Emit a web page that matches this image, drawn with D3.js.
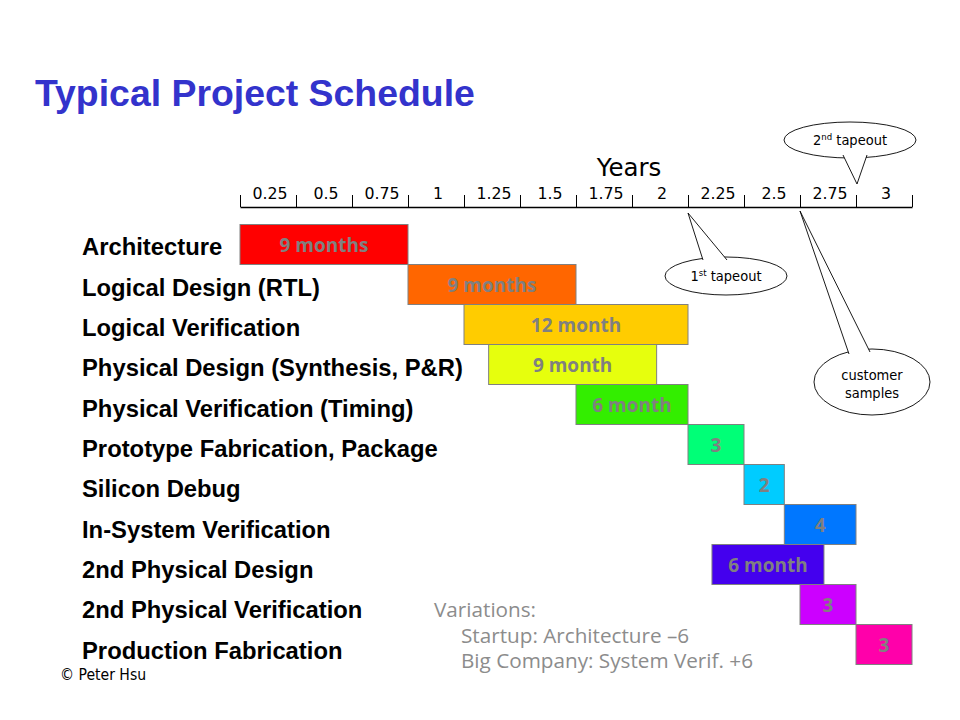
<!DOCTYPE html>
<html>
<head>
<meta charset="utf-8">
<script src="https://cdn.jsdelivr.net/npm/d3@7/dist/d3.min.js"></script>
<style>
  html, body { margin: 0; padding: 0; background: #fff; }
  svg { display: block; }
</style>
</head>
<body>
<svg id="chart" width="960" height="720"></svg>
<script>
// ---- Data ----
const categories = [
  "Architecture",
  "Logical Design (RTL)",
  "Logical Verification",
  "Physical Design (Synthesis, P&R)",
  "Physical Verification (Timing)",
  "Prototype Fabrication, Package",
  "Silicon Debug",
  "In-System Verification",
  "2nd Physical Design",
  "2nd Physical Verification",
  "Production Fabrication"
];
// start / end in years
const starts = [0, 0.75, 1.0, 1.11, 1.5, 2.0, 2.25, 2.43, 2.107, 2.5, 2.75];
const ends   = [0.75, 1.5, 2.0, 1.86, 2.0, 2.25, 2.43, 2.75, 2.607, 2.75, 3.0];
const barLabels = ["9 months", "9 months", "12 month", "9 month", "6 month", "3", "2", "4", "6 month", "3", "3"];
const tickValues = [0, 0.25, 0.5, 0.75, 1, 1.25, 1.5, 1.75, 2, 2.25, 2.5, 2.75, 3];
const tickLabels = ["0.25", "0.5", "0.75", "1", "1.25", "1.5", "1.75", "2", "2.25", "2.5", "2.75", "3"];
const milestoneYears = [2.0, 2.75, 2.5];
const milestoneNames = [["1", "st", " tapeout"], ["2", "nd", " tapeout"], ["customer", "samples"]];
const variations = ["Variations:", "Startup: Architecture \u20136", "Big Company: System Verif. +6"];

// ---- Styles ----
const palette = ["#ff0000", "#ff6600", "#ffcc00", "#e6ff0d", "#33ee00", "#00ff77",
                 "#00ccff", "#0077ff", "#4400ee", "#cc00ff", "#ff00aa"];
const ARIAL = "'Liberation Sans', Arial, sans-serif";
const TAHOMA = "'DejaVu Sans', Verdana, sans-serif";
const TAHOMA_C = "'DejaVu Sans Condensed', 'DejaVu Sans', sans-serif";
const SEGOE = "'Open Sans', 'Noto Sans', sans-serif";

const svg = d3.select("#chart");

const x = d3.scaleLinear().domain([0, 3]).range([240, 912]);
const y = d3.scaleBand().domain(categories).range([224, 664]).padding(0);
// label rows are spaced slightly wider than the bar rows in the original
const yLabel = d3.scaleBand().domain(categories).range([225, 669]).padding(0);

// Title
svg.append("text")
  .attr("x", 35).attr("y", 106)
  .style("font-family", ARIAL)
  .style("font-weight", "bold")
  .style("font-size", "37.4px")
  .attr("fill", "#3333cc")
  .text("Typical Project Schedule");

// Axis
const axisG = svg.append("g").attr("transform", "translate(0,207)");
axisG.call(d3.axisTop(x).tickValues(tickValues).tickSizeInner(12).tickSizeOuter(0).tickFormat(""));
axisG.select(".domain").attr("stroke", "#000").attr("stroke-width", 1.3);
axisG.selectAll(".tick line").attr("stroke", "#000").attr("stroke-width", 1);

svg.append("g").selectAll("text")
  .data(tickLabels)
  .join("text")
  .attr("x", (d, i) => x((tickValues[i] + tickValues[i + 1]) / 2) + 2)
  .attr("y", 199)
  .attr("text-anchor", "middle")
  .style("font-family", TAHOMA)
  .style("font-size", "15.8px")
  .attr("fill", "#000")
  .text(d => d);

svg.append("text")
  .attr("x", 629).attr("y", 176)
  .attr("text-anchor", "middle")
  .style("font-family", TAHOMA)
  .style("font-size", "24.5px")
  .attr("fill", "#000")
  .text("Years");

// Category labels
svg.append("g").selectAll("text")
  .data(categories)
  .join("text")
  .attr("x", 82)
  .attr("y", d => yLabel(d) + yLabel.bandwidth() / 2 + 10)
  .style("font-family", ARIAL)
  .style("font-weight", "bold")
  .style("font-size", "23.8px")
  .attr("fill", "#000")
  .text(d => d);

// Bars
svg.append("g").selectAll("rect")
  .data(categories)
  .join("rect")
  .attr("x", (d, i) => x(starts[i]))
  .attr("y", d => y(d) + 0.5)
  .attr("width", (d, i) => x(ends[i]) - x(starts[i]))
  .attr("height", y.bandwidth())
  .attr("fill", (d, i) => palette[i])
  .attr("stroke", "#808080")
  .attr("stroke-width", 1);

svg.append("g").selectAll("text")
  .data(categories)
  .join("text")
  .attr("x", (d, i) => (x(starts[i]) + x(ends[i])) / 2)
  .attr("y", d => y(d) + y.bandwidth() / 2 + 8)
  .attr("text-anchor", "middle")
  .style("font-family", SEGOE)
  .style("font-weight", "bold")
  .style("font-size", "19px")
  .attr("fill", "#808080")
  .text((d, i) => barLabels[i]);

// Callouts
const callouts = [
  { cx: 726, cy: 276, rx: 61, ry: 19, tipY: 213, b1: [703, 260], b2: [727, 260] },
  { cx: 850, cy: 140, rx: 66, ry: 18, tipY: 184, b1: [843, 155], b2: [867, 155] },
  { cx: 872, cy: 382, rx: 58, ry: 33, tipY: 211, b1: [849, 354], b2: [870, 352] }
];
const cg = svg.append("g");
callouts.forEach((c, i) => {
  const tipX = x(milestoneYears[i]) + (i === 1 ? 1 : 0);
  cg.append("ellipse")
    .attr("cx", c.cx).attr("cy", c.cy).attr("rx", c.rx).attr("ry", c.ry)
    .attr("fill", "#fff").attr("stroke", "#000").attr("stroke-width", 0.9);
  cg.append("path")
    .attr("d", `M${c.b1[0]},${c.b1[1]}L${tipX},${c.tipY}L${c.b2[0]},${c.b2[1]}`)
    .attr("fill", "#fff").attr("stroke", "#000").attr("stroke-width", 0.9);
  const names = milestoneNames[i];
  if (names.length === 3) {
    const t = cg.append("text")
      .attr("x", c.cx).attr("y", c.cy + 5)
      .attr("text-anchor", "middle")
      .style("font-family", TAHOMA_C)
      .style("font-size", "14.5px")
      .attr("fill", "#000");
    t.append("tspan").text(names[0]);
    t.append("tspan").style("font-size", "9.5px").attr("dy", -5).text(names[1]);
    t.append("tspan").attr("dy", 5).text(names[2]);
  } else {
    names.forEach((n, j) => {
      cg.append("text")
        .attr("x", c.cx).attr("y", c.cy - 2 + j * 18)
        .attr("text-anchor", "middle")
        .style("font-family", TAHOMA_C)
        .style("font-size", "14.5px")
        .attr("fill", "#000")
        .text(n);
    });
  }
});

// Variations note
svg.append("g").selectAll("text")
  .data(variations)
  .join("text")
  .attr("x", (d, i) => i === 0 ? 434 : 461)
  .attr("y", (d, i) => 617 + i * 25.5)
  .style("font-family", SEGOE)
  .style("font-size", "20.7px")
  .attr("fill", "#8c8c8c")
  .text(d => d);

// Copyright
svg.append("text")
  .attr("x", 60).attr("y", 680)
  .style("font-family", TAHOMA_C)
  .style("font-size", "15.6px")
  .attr("fill", "#000")
  .text("\u00a9 Peter Hsu");
</script>
</body>
</html>
